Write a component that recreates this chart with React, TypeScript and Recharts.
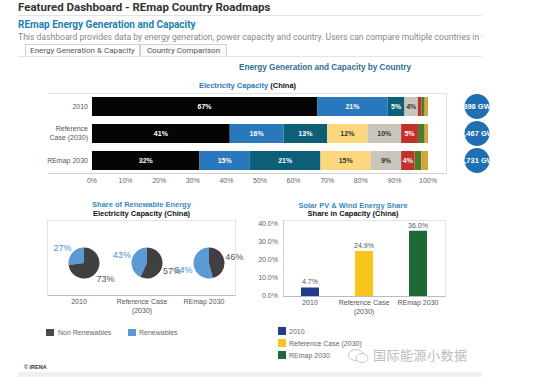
import React from "react";
import { Bar, BarChart, LabelList, Pie, PieChart, XAxis, YAxis, Cell } from "recharts";

// scenarios shown in every panel
const SCENARIOS = ["2010", "Reference Case (2030)", "REmap 2030"];

// electricity capacity mix, % of total (stacked bar)
const MIX_NAMES = ["Coal", "Hydropower", "Wind", "Solar PV", "Natural Gas", "Nuclear", "Bioenergy", "Other"];
const COAL = [67, 41, 32];
const HYDRO = [21, 16, 15];
const WIND = [5, 13, 21];
const SOLAR = [0, 12, 15];
const GAS = [4, 10, 9];
const NUCLEAR = [1, 5, 4];
const BIO = [1, 2, 2];
const OTHER = [1, 1, 2];
const TOTAL_CAPACITY = ["898 GW", "1,467 GW", "1,731 GW"];
const PCT_TICKS = [0, 10, 20, 30, 40, 50, 60, 70, 80, 90, 100];

// share of renewables in capacity
const RENEWABLES = [27, 43, 54];
const NON_RENEWABLES = [73, 57, 46];

// solar PV + wind share in capacity
const SOLAR_WIND = [4.7, 24.9, 36.0];
const SHARE_TICKS = [0, 10, 20, 30, 40];

const MIX_COLORS = ["#050505", "#2878bb", "#0d5f78", "#fdd77e", "#c9c5bd", "#c2302a", "#4f7a2c", "#d2a43a"];
const MIX_TEXT = ["#fff", "#fff", "#fff", "#333", "#333", "#fff", "#fff", "#fff"];
const MIX_SERIES = [COAL, HYDRO, WIND, SOLAR, GAS, NUCLEAR, BIO, OTHER];
const PIE_COLORS = ["#5b9bd5", "#404040"];
const SHARE_COLORS = ["#233b8e", "#f8c51c", "#1e6a36"];

const FONT = "Arial, 'Liberation Sans', sans-serif";

const mixData = SCENARIOS.map((name, i) => {
    const row: Record<string, string | number> = { name };
    MIX_NAMES.forEach((k, j) => (row[k] = MIX_SERIES[j][i]));
    return row;
});

const shareData = SCENARIOS.map((name, i) => ({ name, value: SOLAR_WIND[i] }));

const wrap = (label: string, maxChars: number) => {
    const words = label.split(" ");
    const lines: string[] = [];
    let cur = "";
    words.forEach((w) => {
        const next = cur ? cur + " " + w : w;
        if (next.length > maxChars && cur) {
            lines.push(cur);
            cur = w;
        } else cur = next;
    });
    if (cur) lines.push(cur);
    return lines;
};

const MixYTick = (p: any) => {
    const lines = wrap(p.payload.value, 11);
    const start = -((lines.length - 1) * 9) / 2;
    return (
        <text x={p.x} y={p.y} textAnchor="end" fontSize={7} fill="#555" fontFamily={FONT}>
            {lines.map((l, i) => (
                <tspan key={i} x={p.x} y={p.y + start + i * 9} dy="0.35em">
                    {l}
                </tspan>
            ))}
        </text>
    );
};

const SegmentLabel = (color: string) => (p: any) => {
    if (!p.value || p.value < 4) return null;
    return (
        <text
            x={p.x + p.width / 2}
            y={p.y + p.height / 2}
            dy="0.35em"
            textAnchor="middle"
            fontSize={7}
            fontWeight="bold"
            fill={color}
            fontFamily={FONT}
        >
            {p.value}%
        </text>
    );
};

const CapacityBubble = (p: any) => {
    const cx = p.x + p.width + 49;
    const cy = p.y + p.height / 2;
    const id = `bubble-${p.index}`;
    return (
        <g>
            <defs>
                <clipPath id={id}>
                    <circle cx={cx} cy={cy} r={12.5} />
                </clipPath>
            </defs>
            <circle cx={cx} cy={cy} r={12.5} fill="#1f6fb2" />
            <text
                x={cx}
                y={cy}
                dy="0.35em"
                textAnchor="middle"
                fontSize={7.5}
                fontWeight="bold"
                fill="#fff"
                fontFamily={FONT}
                clipPath={`url(#${id})`}
            >
                {TOTAL_CAPACITY[p.index]}
            </text>
        </g>
    );
};

const RADIAN = Math.PI / 180;
// label box touches the pie at the slice's mid angle, on the outer corner
const pieLabel = (p: any) => {
    const r = p.outerRadius + 1;
    const x = p.cx + r * Math.cos(-p.midAngle * RADIAN);
    const y = p.cy + r * Math.sin(-p.midAngle * RADIAN);
    return (
        <text
            x={x}
            y={y < p.cy ? y - 4.5 : y + 4.5}
            dy="0.35em"
            textAnchor={x > p.cx ? "start" : "end"}
            fontSize={9}
            fill={p.index === 0 ? "#4a90cf" : "#555"}
            fontFamily={FONT}
        >
            {p.value}%
        </text>
    );
};

const ShareXTick = (p: any) => {
    const lines = wrap(p.payload.value, 14);
    return (
        <text x={p.x} y={p.y} textAnchor="middle" fontSize={7} fill="#555" fontFamily={FONT}>
            {lines.map((l, i) => (
                <tspan key={i} x={p.x} y={p.y + i * 9} dy="0.71em">
                    {l}
                </tspan>
            ))}
        </text>
    );
};

const abs = (left: number, top: number, extra: React.CSSProperties = {}): React.CSSProperties => ({
    position: "absolute",
    left,
    top,
    ...extra,
});

const PIE_CX = [31, 94, 156];

const App = () => {
    return (
        <div
            style={{
                position: "absolute",
                left: 0,
                top: 0,
                width: 551,
                height: 377,
                background: "#fff",
                overflow: "hidden",
                fontFamily: FONT,
            }}
        >
            {/* page header */}
            <div style={abs(18, 0, { fontFamily: "Roboto", fontWeight: 700, fontSize: 11.5, color: "#333", lineHeight: "14px" })}>
                Featured Dashboard - REmap Country Roadmaps
            </div>
            <div style={abs(18, 15, { width: 464, height: 1, background: "#e2e2e2" })} />
            <div style={abs(18, 19, { fontFamily: "Roboto", fontWeight: 700, fontSize: 10, color: "#217fb3", lineHeight: "12px" })}>
                REmap Energy Generation and Capacity
            </div>
            <div
                style={abs(18, 32, {
                    width: 464,
                    overflow: "hidden",
                    whiteSpace: "nowrap",
                    fontFamily: "Roboto",
                    fontSize: 8.6,
                    color: "#888",
                    lineHeight: "11px",
                })}
            >
                This dashboard provides data by energy generation, power capacity and country. Users can compare multiple countries in the 'Co
            </div>
            <div
                style={abs(25, 44, {
                    width: 115,
                    height: 12,
                    border: "1px solid #d0d0d0",
                    borderBottom: "none",
                    background: "#fff",
                    fontFamily: "Roboto",
                    fontSize: 8,
                    color: "#555",
                    textAlign: "center",
                    lineHeight: "12px",
                    boxSizing: "border-box",
                })}
            >
                Energy Generation &amp; Capacity
            </div>
            <div
                style={abs(140, 44, {
                    width: 87,
                    height: 12,
                    border: "1px solid #d0d0d0",
                    borderBottom: "none",
                    background: "#fafafa",
                    fontFamily: "Roboto",
                    fontSize: 8,
                    color: "#555",
                    textAlign: "center",
                    lineHeight: "12px",
                    boxSizing: "border-box",
                })}
            >
                Country Comparison
            </div>
            <div style={abs(18, 56, { width: 464, height: 1, background: "#e2e2e2" })} />

            {/* main stacked bar */}
            <div style={abs(225, 63, { width: 200, textAlign: "center", fontSize: 8.2, fontWeight: 700, color: "#2d6f92" })}>
                Energy Generation and Capacity by Country
            </div>
            <div style={abs(48, 81, { width: 399, textAlign: "center", fontSize: 7.5, fontWeight: 700, color: "#2a7ab9" })}>
                Electricity Capacity <span style={{ color: "#111" }}>(China)</span>
            </div>
            <div
                style={abs(48, 93, {
                    width: 399,
                    height: 81,
                    borderTop: "1px solid #e0e0e0",
                    borderBottom: "1px solid #d0d0d0",
                    borderRight: "1px solid #e0e0e0",
                    boxSizing: "border-box",
                })}
            />
            <div style={abs(0, 93)}>
                <BarChart
                    width={500}
                    height={101}
                    layout="vertical"
                    data={mixData}
                    margin={{ top: 0, right: 72, bottom: 0, left: 0 }}
                    barCategoryGap={4}
                >
                    <XAxis
                        type="number"
                        domain={[0, 100]}
                        ticks={PCT_TICKS}
                        tickFormatter={(v) => `${v}%`}
                        axisLine={false}
                        tickLine={false}
                        tickSize={2}
                        height={20}
                        interval={0}
                        tick={{ fontSize: 7, fill: "#666", fontFamily: FONT }}
                    />
                    <YAxis
                        type="category"
                        dataKey="name"
                        width={92}
                        axisLine={false}
                        tickLine={false}
                        tickSize={2}
                        tick={MixYTick}
                    />
                    {MIX_NAMES.map((k, j) => (
                        <Bar key={k} dataKey={k} stackId="mix" fill={MIX_COLORS[j]} barSize={19} isAnimationActive={false}>
                            <LabelList dataKey={k} content={SegmentLabel(MIX_TEXT[j])} />
                            {j === MIX_NAMES.length - 1 && <LabelList dataKey={k} content={CapacityBubble} />}
                        </Bar>
                    ))}
                </BarChart>
            </div>

            {/* renewable share pies */}
            <div style={abs(48, 200, { width: 187, textAlign: "center", fontSize: 7.5, fontWeight: 700, color: "#3a87c0" })}>
                Share of Renewable Energy
            </div>
            <div style={abs(48, 209, { width: 187, textAlign: "center", fontSize: 7.5, fontWeight: 700, color: "#111" })}>
                Electricity Capacity (China)
            </div>
            <div
                style={abs(47, 220, {
                    width: 189,
                    height: 76,
                    border: "1px solid #e4e4e4",
                    borderBottom: "1px solid #bbb",
                    boxSizing: "border-box",
                })}
            />
            <div style={abs(48, 220)}>
                <PieChart width={215} height={76}>
                    {SCENARIOS.map((s, i) => (
                        <Pie
                            key={s}
                            data={[
                                { name: "Renewables", value: RENEWABLES[i] },
                                { name: "Non Renewables", value: NON_RENEWABLES[i] },
                            ]}
                            dataKey="value"
                            cx={PIE_CX[i]}
                            cy={38}
                            outerRadius={15.5}
                            startAngle={90}
                            endAngle={450}
                            stroke="none"
                            label={pieLabel}
                            labelLine={false}
                            isAnimationActive={false}
                        >
                            {PIE_COLORS.map((c) => (
                                <Cell key={c} fill={c} />
                            ))}
                        </Pie>
                    ))}
                </PieChart>
            </div>
            {SCENARIOS.map((s, i) => (
                <div
                    key={s}
                    style={abs(48 + PIE_CX[i] - 40, 297, { width: 80, textAlign: "center", fontSize: 7, color: "#555", lineHeight: "9px" })}
                >
                    {wrap(s, 14).map((l) => (
                        <div key={l}>{l}</div>
                    ))}
                </div>
            ))}
            <div style={abs(46, 329, { width: 8, height: 7, background: "#4a4a4a" })} />
            <div style={abs(58, 328, { fontSize: 7, color: "#666", lineHeight: "9px" })}>Non Renewables</div>
            <div style={abs(128, 329, { width: 8, height: 7, background: "#5b9bd5" })} />
            <div style={abs(139, 328, { fontSize: 7, color: "#666", lineHeight: "9px" })}>Renewables</div>

            {/* solar PV & wind share */}
            <div style={abs(253, 201, { width: 200, textAlign: "center", fontSize: 7.5, fontWeight: 700, color: "#3a87c0" })}>
                Solar PV &amp; Wind Energy Share
            </div>
            <div style={abs(253, 209, { width: 200, textAlign: "center", fontSize: 7.5, fontWeight: 700, color: "#111" })}>
                Share in Capacity (China)
            </div>
            <div
                style={abs(283, 220, {
                    width: 163,
                    height: 77,
                    border: "1px solid #e4e4e4",
                    borderBottom: "1px solid #bbb",
                    borderLeft: "1px solid #ccc",
                    boxSizing: "border-box",
                })}
            />
            <div style={abs(240, 220)}>
                <BarChart width={206} height={100} data={shareData} margin={{ top: 0, right: 1, bottom: 0, left: 0 }}>
                    <XAxis
                        dataKey="name"
                        axisLine={false}
                        tickLine={false}
                        tickSize={2}
                        height={24}
                        interval={0}
                        tick={ShareXTick}
                    />
                    <YAxis
                        type="number"
                        domain={[0, 42]}
                        ticks={SHARE_TICKS}
                        tickFormatter={(v) => `${v.toFixed(1)}%`}
                        axisLine={false}
                        tickLine={false}
                        tickSize={3}
                        width={43}
                        tick={{ fontSize: 7, fill: "#666", fontFamily: FONT }}
                    />
                    <Bar dataKey="value" barSize={18} isAnimationActive={false}>
                        {SHARE_COLORS.map((c) => (
                            <Cell key={c} fill={c} />
                        ))}
                        <LabelList
                            dataKey="value"
                            position="top"
                            offset={3}
                            formatter={(v: any) => `${Number(v).toFixed(1)}%`}
                            style={{ fontSize: 7, fill: "#555", fontFamily: FONT }}
                        />
                    </Bar>
                </BarChart>
            </div>
            {SCENARIOS.map((s, i) => (
                <React.Fragment key={s}>
                    <div style={abs(278, 327 + i * 12, { width: 8, height: 8, background: SHARE_COLORS[i] })} />
                    <div style={abs(289, 327 + i * 12, { fontSize: 7, color: "#666", lineHeight: "9px" })}>{s}</div>
                </React.Fragment>
            ))}

            {/* watermark */}
            <svg style={abs(347, 348)} width={24} height={16}>
                <ellipse cx={9} cy={7} rx={7.5} ry={5.5} fill="none" stroke="#c8c8c8" strokeWidth={1} />
                <ellipse cx={15} cy={10} rx={6} ry={4.5} fill="#fff" stroke="#c8c8c8" strokeWidth={1} />
            </svg>
            <div style={abs(373, 346, { fontFamily: "'Noto Sans CJK SC'", fontSize: 13, color: "#bdbdbd", lineHeight: "18px", letterSpacing: 0.5 })}>
                国际能源小数据
            </div>

            {/* footer */}
            <div style={abs(24, 364, { fontSize: 5.5, fontWeight: 700, color: "#333", lineHeight: "7px" })}>© IRENA</div>
            <div style={abs(18, 372, { width: 464, height: 6, background: "#f0f0f0" })} />
        </div>
    );
};

export default App;
